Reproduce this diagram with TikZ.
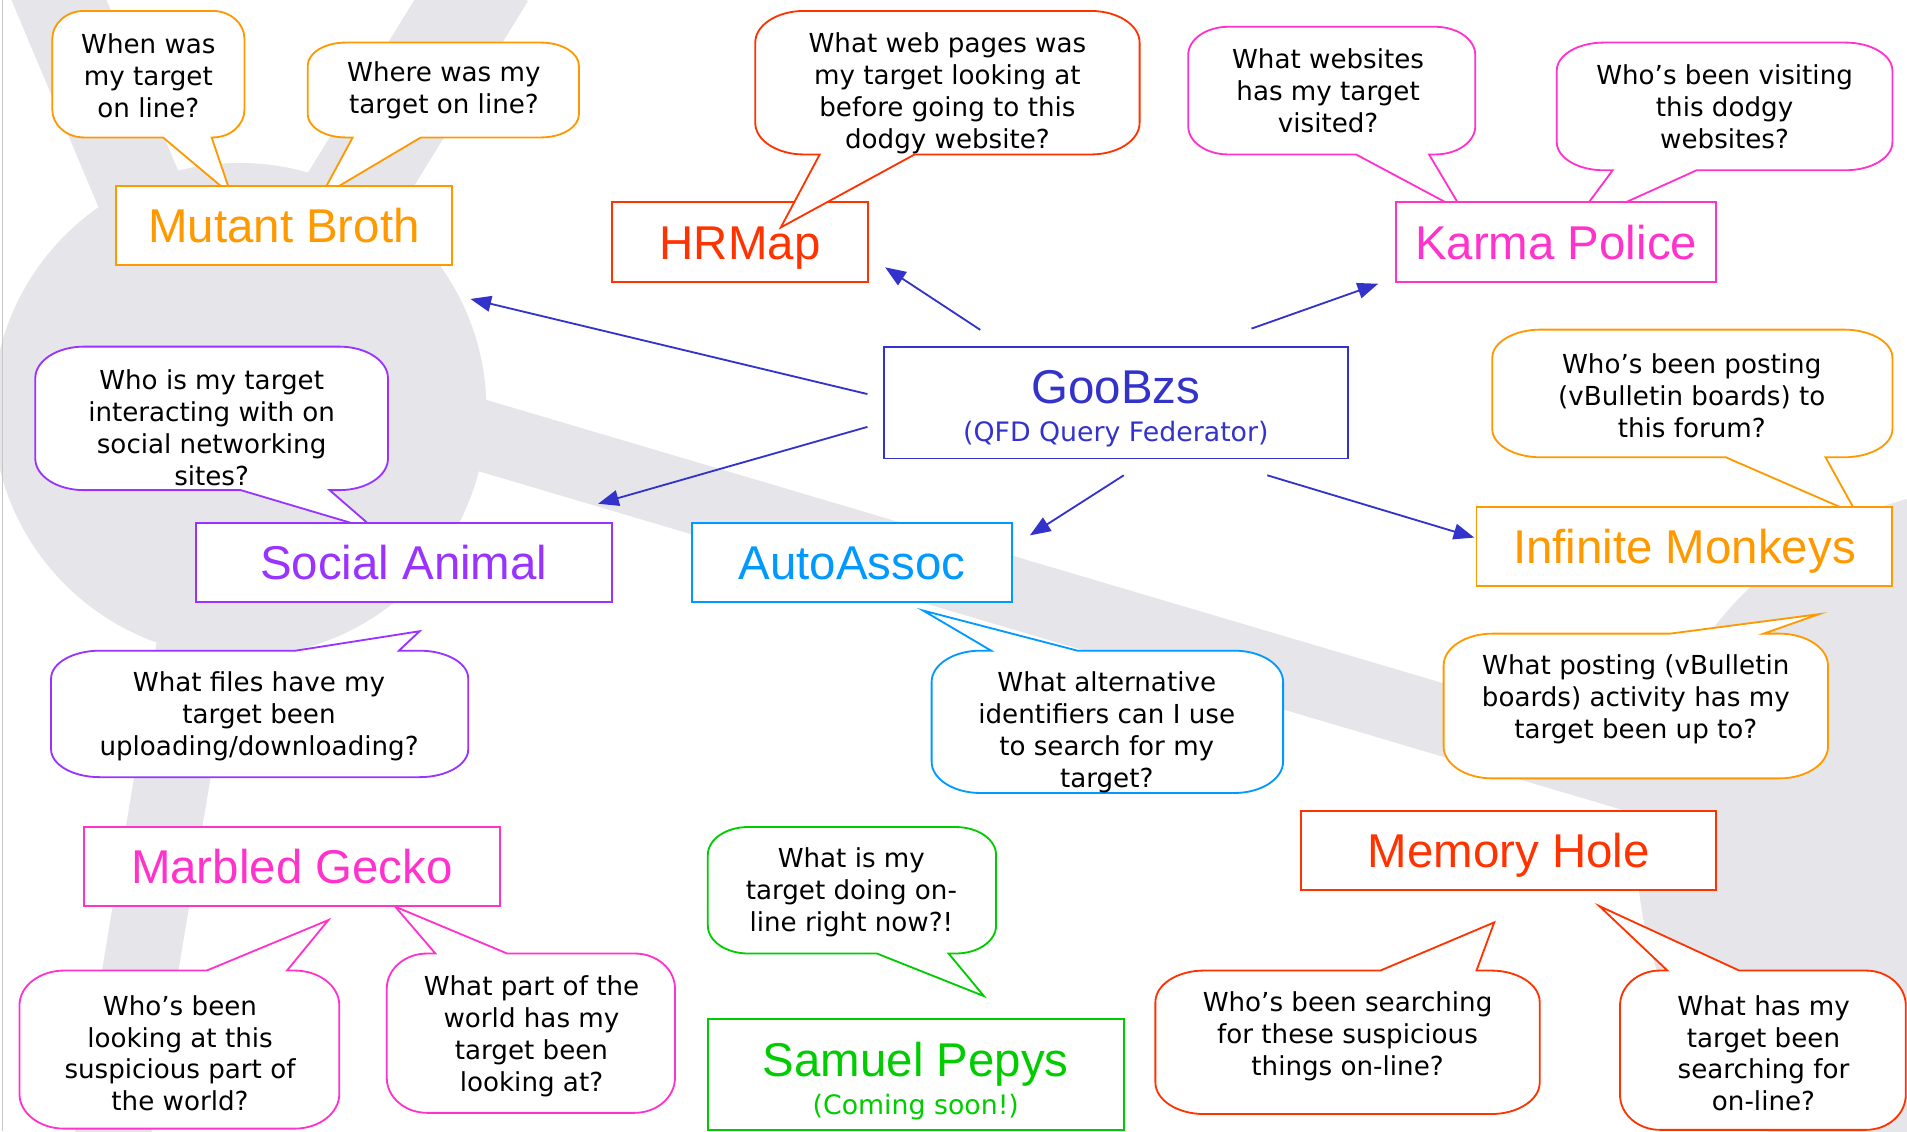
\documentclass[tikz,border=0pt]{standalone}
\usepackage{fontspec}
\setmainfont{DejaVu Sans}
\newfontfamily\titlefont{Liberation Sans}
\usetikzlibrary{arrows.meta,calc}
\definecolor{corange}{HTML}{FF9900}
\definecolor{cred}{HTML}{FF3300}
\definecolor{cmag}{HTML}{FF33CC}
\definecolor{cblue}{HTML}{3333CC}
\definecolor{cpurple}{HTML}{9933FF}
\definecolor{csky}{HTML}{0099FF}
\definecolor{cgreen}{HTML}{00CC00}
\definecolor{bgg}{RGB}{229,229,234}
\tikzset{
  bubble/.style={fill=white, line width=1.5pt},
  qtext/.style={font=\fontsize{21.5}{26.3}\selectfont, align=center, text=black, inner sep=0pt, yshift=-2pt},
  tbox/.style={draw=#1, text=#1, fill=white, line width=1.6pt,
    font=\titlefont\fontsize{39}{44}\selectfont, text height=28pt, text depth=0pt, inner sep=0pt},
  plainbox/.style={draw=#1, fill=white, line width=1.6pt, inner sep=0pt},
  bigtitle/.style={text=#1, font=\titlefont\fontsize{39}{44}\selectfont, text height=28pt, text depth=0pt, inner sep=0pt},
  subtitle/.style={text=#1, font=\fontsize{22}{26}\selectfont, inner sep=0pt},
  arr/.style={cblue, line width=1.5pt, -{Triangle[length=17pt,width=13pt]}},
  spoke/.style={draw=bgg, line width=#1},
}
% callout with wedge on the bottom side: color, x1, y1, x2, y2, base a, base b, tip
\newcommand\bubbleB[8]{%
  \pgfmathsetmacro\crx{max(26,min(0.14*(#4-#2),40))}%
  \pgfmathsetmacro\cry{max(19,0.22*(#5-#3))}%
  \draw[bubble,draw=#1] (#2+\crx,#3) -- (#4-\crx,#3)
    arc[start angle=-90,end angle=0,x radius=\crx,y radius=\cry]
    -- (#4,#5-\cry)
    arc[start angle=0,end angle=90,x radius=\crx,y radius=\cry]
    -- (#7,#5) -- (#8) -- (#6,#5) -- (#2+\crx,#5)
    arc[start angle=90,end angle=180,x radius=\crx,y radius=\cry]
    -- (#2,#3+\cry)
    arc[start angle=180,end angle=270,x radius=\crx,y radius=\cry]
    -- cycle;}
% callout with wedge on the top side
\newcommand\bubbleT[8]{%
  \pgfmathsetmacro\crx{max(26,min(0.14*(#4-#2),40))}%
  \pgfmathsetmacro\cry{max(19,0.22*(#5-#3))}%
  \draw[bubble,draw=#1] (#2+\crx,#3) -- (#6,#3) -- (#8) -- (#7,#3) -- (#4-\crx,#3)
    arc[start angle=-90,end angle=0,x radius=\crx,y radius=\cry]
    -- (#4,#5-\cry)
    arc[start angle=0,end angle=90,x radius=\crx,y radius=\cry]
    -- (#2+\crx,#5)
    arc[start angle=90,end angle=180,x radius=\crx,y radius=\cry]
    -- (#2,#3+\cry)
    arc[start angle=180,end angle=270,x radius=\crx,y radius=\cry]
    -- cycle;}
\begin{document}
\begin{tikzpicture}[x=1pt,y=-1pt]
\useasboundingbox (0,0) rectangle (1568,930);
\fill[white] (0,0) rectangle (1568,930);
% background logo
\begin{scope}
  \clip (0,0) rectangle (1568,930);
  \fill[bgg] (197,337) circle[radius=203];
  \fill[bgg] (1646,700) circle[radius=300];
  \draw[spoke=72pt] (190,337) -- (38,-25);
  \draw[spoke=80pt] (180,337) -- (400,-20);
  \draw[spoke=58pt] (197,299) -- (1646,728);
  \draw[spoke=62pt] (192,337) -- (90,950);
  \draw[gray!45, line width=1.2pt] (2,0) -- (2,930);
\end{scope}

% callouts (drawn below the boxes)
\bubbleB{corange}{43}{9}{201}{113}{134}{174}{190,160}
\bubbleB{corange}{253}{35}{476}{113}{290}{346}{263.5,162}
\bubbleB{cmag}{977}{22}{1213}{127}{1115}{1175}{1203,174}
\bubbleB{cmag}{1280}{35}{1556}{140}{1326}{1395}{1291,187}
\bubbleB{corange}{1227}{271}{1556}{376}{1419}{1501}{1527,423}
\bubbleB{cpurple}{29}{285}{319}{403}{198}{271}{309,436}
\bubbleT{cpurple}{42}{535}{385}{639}{243}{328}{345,519}
\bubbleT{csky}{766}{535}{1055}{652}{815}{886}{759,502}
\bubbleT{corange}{1187}{521}{1503}{640}{1373}{1450}{1495.5,505}
\bubbleT{cmag}{16}{798}{279}{928}{170}{236}{270,756.5}
\bubbleT{cmag}{318}{784}{555}{915}{358}{417}{325,745.5}
\bubbleB{cgreen}{582}{680}{819}{784}{721}{780}{809,819}
\bubbleT{cred}{950}{798}{1266}{916}{1135}{1214}{1228.6,758.4}
\bubbleT{cred}{1332}{798}{1567}{929}{1371}{1430}{1315,745}

% boxes
\node[tbox=corange, minimum width=277pt, minimum height=65pt] (mb) at (233.5,185.5) {Mutant Broth};
\node[tbox=cred, minimum width=211pt, minimum height=66pt] (hr) at (608.5,199) {HRMap};
\node[tbox=cmag, minimum width=263pt, minimum height=66pt] (kp) at (1279.5,199) {Karma Police};
\node[tbox=cpurple, minimum width=342pt, minimum height=65pt] (sa) at (332,462.5) {Social Animal};
\node[tbox=csky, minimum width=263pt, minimum height=65pt] (aa) at (700.5,462.5) {AutoAssoc};
\node[tbox=corange, minimum width=342pt, minimum height=65pt] (im) at (1385,449.5) {Infinite Monkeys};
\node[tbox=cmag, minimum width=342pt, minimum height=65pt] (mg) at (240,712.5) {Marbled Gecko};
\node[tbox=cred, minimum width=341pt, minimum height=65pt] (mh) at (1240.5,699.5) {Memory Hole};
\node[plainbox=cblue, minimum width=381pt, minimum height=92pt] (goo) at (917.5,331) {};
\node[bigtitle=cblue] (goot) at (917.5,318) {GooBzs};
\node[subtitle=cblue] (goos) at (917.5,357) {(QFD Query Federator)};
\node[plainbox=cgreen, minimum width=342pt, minimum height=91pt] (sp) at (753,883.5) {};
\node[bigtitle=cgreen] (spt) at (753,871) {Samuel Pepys};
\node[subtitle=cgreen] (sps) at (753,910) {(Coming soon!)};

% HRMap callout lies over its box
\bubbleB{cred}{621}{9}{937}{127}{674}{752}{642,187}

% connectors
\draw[arr] ($(goo.west)+(-13,-7)$) -- ($(mb.south east)+(14,27)$);
\draw[arr] ($(goo.north)+(-111.5,-13)$) -- ($(hr.south east)+(13,-13)$);
\draw[arr] ($(goo.north)+(111.5,-14)$) -- ($(kp.south west)+(-14,0.5)$);
\draw[arr] ($(goo.west)+(-13,20)$) -- ($(sa.north east)+(-12,-15)$);
\draw[arr] ($(goo.south)+(6.5,13)$) -- ($(aa.north east)+(14,11)$);
\draw[arr] ($(goo.south)+(124.5,13)$) -- ($(im.west)+(-1,-7.5)$);

% callout texts
\node[qtext] (q1) at (122,60) {When was\\my target\\on line?};
\node[qtext] (q2) at (365,72) {Where was my\\target on line?};
\node[qtext] (q3) at (779,74.5) {What web pages was\\my target looking at\\before going to this\\dodgy website?};
\node[qtext] (q4) at (1092,73) {What websites\\has my target\\visited?};
\node[qtext] (q5) at (1418,86) {Who’s been visiting\\this dodgy\\websites?};
\node[qtext] (q6) at (1391,323) {Who’s been posting\\(vBulletin boards) to\\this forum?};
\node[qtext] (q7) at (174,349.5) {Who is my target\\interacting with on\\social networking\\sites?};
\node[qtext] (q8) at (213,587) {What files have my\\target been\\uploading/downloading?};
\node[qtext] (q9) at (910,600) {What alternative\\identifiers can I use\\to search for my\\target?};
\node[qtext] (q10) at (1345,573) {What posting (vBulletin\\boards) activity has my\\target been up to?};
\node[qtext] (q11) at (148,864) {Who’s been\\looking at this\\suspicious part of\\the world?};
\node[qtext] (q12) at (437,850) {What part of the\\world has my\\target been\\looking at?};
\node[qtext] (q13) at (700,732) {What is my\\target doing on-\\line right now?!};
\node[qtext] (q14) at (1108,850) {Who’s been searching\\for these suspicious\\things on-line?};
\node[qtext] (q15) at (1450,864) {What has my\\target been\\searching for\\on-line?};
\end{tikzpicture}
\end{document}
